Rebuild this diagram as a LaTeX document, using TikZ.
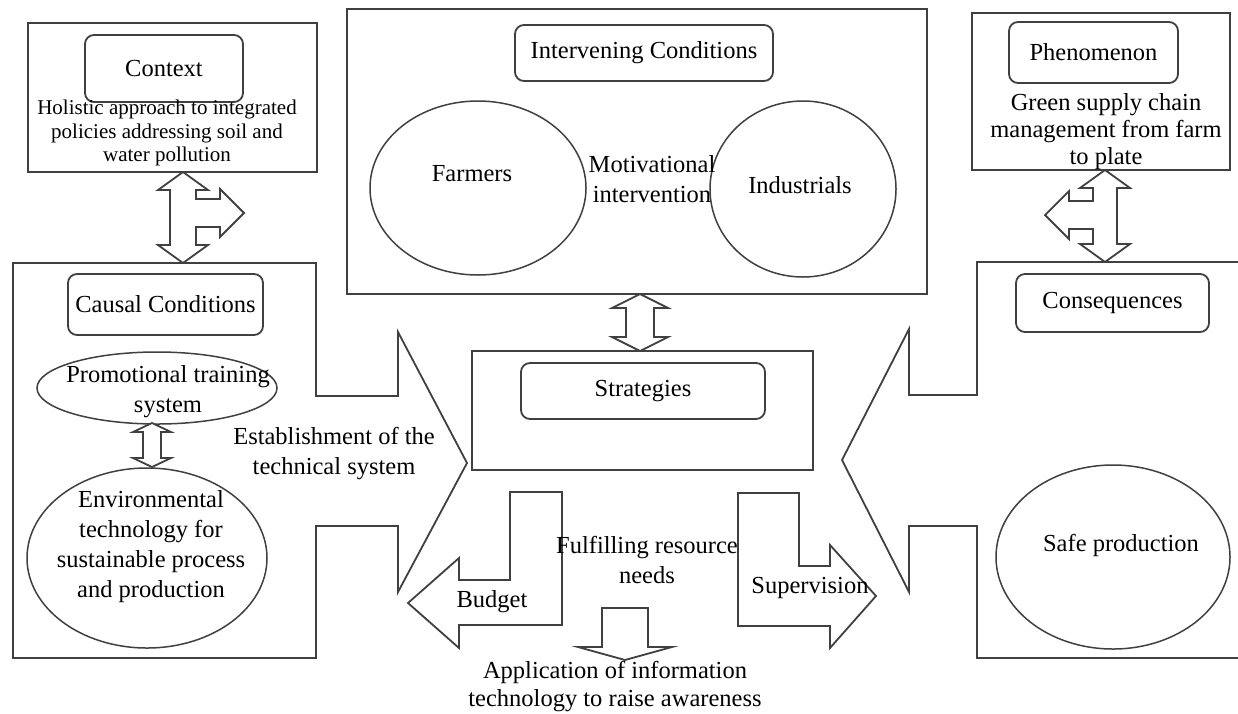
\documentclass[tikz,border=0pt]{standalone}
\usepackage{fontspec}
\setmainfont{Liberation Serif}
\usetikzlibrary{shapes.geometric, positioning}
\definecolor{linegray}{gray}{0.25}
\newcommand{\mainfs}{\fontsize{24.5}{30}\selectfont}
\newcommand{\ctxfs}{\fontsize{21}{23.5}\selectfont}
\tikzset{
  frame/.style={draw=linegray, line width=1.8pt, inner sep=0pt},
  lbl/.style={draw=linegray, line width=1.8pt, rounded corners=9pt, inner sep=0pt, font=\mainfs},
  bubble/.style={draw=linegray, line width=1.5pt, ellipse, inner sep=0pt},
  txt/.style={font=\mainfs, align=center, inner sep=0pt},
  blockarr/.style={draw=linegray, line width=1.8pt, fill=white, line join=miter},
}

\begin{document}
\begin{tikzpicture}[x=1pt, y=-1pt]
  \useasboundingbox (0,0) rectangle (1238,713);
  \fill[white] (0,0) rectangle (1238,713);

  % context
  \node[frame, minimum width=289pt, minimum height=149pt] (ctxbox) at (172.5,97.5) {};
  \node[lbl, minimum width=158pt, minimum height=67pt] (ctxlbl) at (164,68.5) {Context};
  \node[txt, font=\ctxfs] (ctxtxt) at (167,133) {Holistic approach to integrated\\policies addressing soil and\\water pollution};

  % intervening conditions
  \node[frame, minimum width=580pt, minimum height=285pt] (intbox) at (637,151.5) {};
  \node[lbl, minimum width=258pt, minimum height=56pt] (intlbl) at (644,53) {Intervening Conditions};
  \node[bubble, minimum width=216pt, minimum height=174pt] (farmers) at (478,188) {};
  \node[txt] (farmtxt) at (472,174) {Farmers};
  \node[bubble, minimum width=186pt, minimum height=176pt] (industrials) at (803,189) {};
  \node[txt] (indtxt) at (800,185) {Industrials};
  \node[txt] (motiv) at (652,179) {Motivational\\intervention};

  % phenomenon
  \node[frame, minimum width=258pt, minimum height=157pt] (phenbox) at (1101,91.5) {};
  \node[lbl, minimum width=169pt, minimum height=61pt] (phenlbl) at (1093.5,52.5) {Phenomenon};
  \node[txt, font=\fontsize{24.5}{27}\selectfont] (phentxt) at (1106,132) {Green supply chain\\management from farm\\to plate};

  % causal conditions with its big arrow
  \draw[blockarr] (13,263) -- (316,263) -- (316,396) -- (398,396) -- (398,332) -- (467,463)
    -- (398,592) -- (398,526) -- (316,526) -- (316,658) -- (13,658) -- cycle;
  \node[lbl, minimum width=195pt, minimum height=61pt] (caulbl) at (165.5,304.5) {Causal Conditions};
  \node[bubble, minimum width=240pt, minimum height=72pt] (promo) at (157,388) {};
  \node[txt] (promotxt) at (168,392) {Promotional training\\system};
  \node[bubble, minimum width=240pt, minimum height=180pt] (envtech) at (147,558) {};
  \node[txt] (envtxt) at (151,547) {Environmental\\technology for\\sustainable process\\and production};
  \node[txt] (estab) at (334,454) {Establishment of the\\technical system};

  % consequences with its big arrow
  \draw[blockarr] (1250,262) -- (977,262) -- (977,395) -- (909,395) -- (909,329) -- (842,460)
    -- (909,592) -- (909,526) -- (977,526) -- (977,658) -- (1250,658);
  \node[lbl, minimum width=193pt, minimum height=58pt] (conslbl) at (1112.5,303) {Consequences};
  \node[bubble, minimum width=234pt, minimum height=184pt] (safe) at (1113,557) {};
  \node[txt] (safetxt) at (1121,545) {Safe production};

  % strategies
  \node[frame, minimum width=341pt, minimum height=119pt] (strbox) at (642.5,410.5) {};
  \node[lbl, minimum width=244pt, minimum height=56pt] (strlbl) at (643,391) {Strategies};

  % block arrows
  \draw[blockarr] (183,172) -- (208,190) -- (196,190) -- (196,199) -- (220,199) -- (220,189)
    -- (244,213) -- (220,237) -- (220,227) -- (196,227) -- (196,245) -- (208,245) -- (183,263)
    -- (158,245) -- (170,245) -- (170,190) -- (158,190) -- cycle;
  \draw[blockarr] (1105,170) -- (1130,188) -- (1117,188) -- (1117,244) -- (1130,244) -- (1105,262)
    -- (1080,244) -- (1093,244) -- (1093,229) -- (1069,229) -- (1069,239) -- (1045,215)
    -- (1069,191) -- (1069,201) -- (1093,201) -- (1093,188) -- (1080,188) -- cycle;
  \draw[blockarr] (640,294) -- (668,308) -- (654,308) -- (654,337) -- (668,337) -- (640,351)
    -- (612,337) -- (626,337) -- (626,308) -- (612,308) -- cycle;
  \draw[blockarr] (152,423) -- (171,432) -- (161,432) -- (161,458) -- (171,458) -- (152,467)
    -- (133,458) -- (143,458) -- (143,432) -- (133,432) -- cycle;
  \draw[blockarr] (510,492) -- (562,492) -- (562,625) -- (459,625) -- (459,648) -- (408,603)
    -- (459,558) -- (459,580) -- (510,580) -- cycle;
  \draw[blockarr] (738,493) -- (799,493) -- (799,566) -- (830,566) -- (830,545) -- (876,596)
    -- (830,648) -- (830,626) -- (738,626) -- cycle;
  \draw[blockarr] (602,608) -- (648,608) -- (648,647) -- (672,647) -- (625,660) -- (578,647)
    -- (602,647) -- cycle;

  \node[txt] (budget) at (492,602) {Budget};
  \node[txt] (superv) at (810,588) {Supervision};
  \node[txt] (fulfil) at (647,560) {Fulfilling resource\\needs};
  \node[txt, font=\fontsize{24.5}{28}\selectfont] (appl) at (615,687) {Application of information\\technology to raise awareness};
\end{tikzpicture}
\end{document}
